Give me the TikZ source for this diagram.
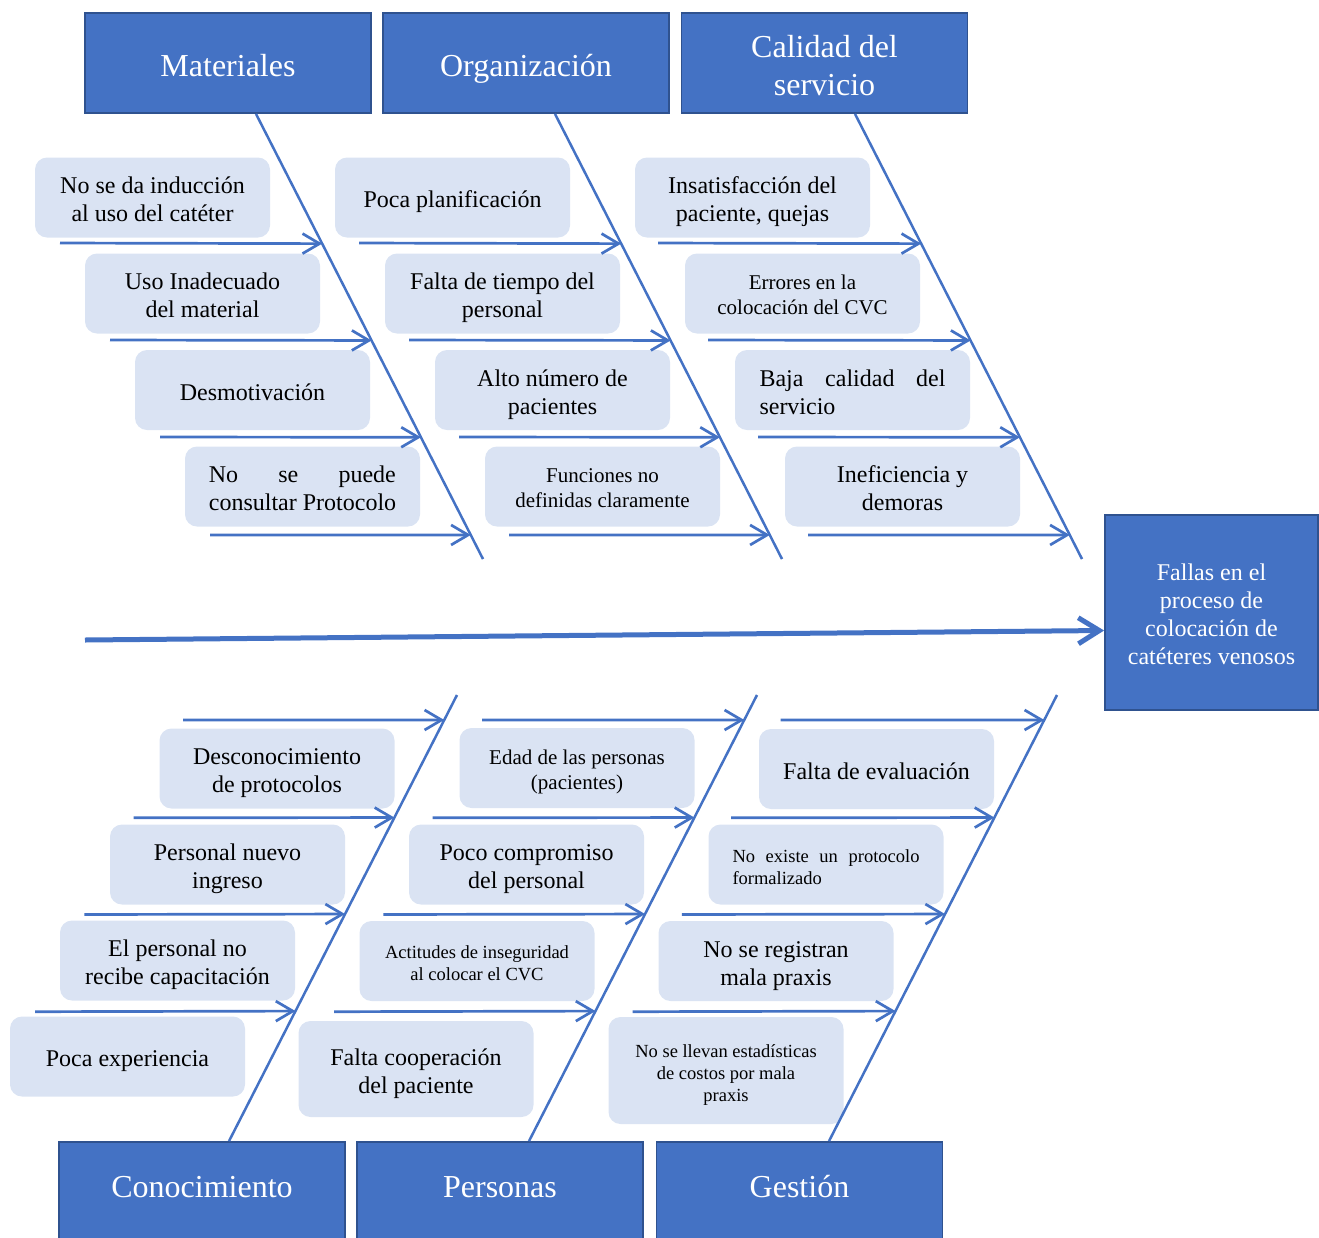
\documentclass[tikz,border=0pt]{standalone}
\usepackage{fontspec}
\setmainfont{Liberation Serif}
\usetikzlibrary{arrows.meta,calc}
\definecolor{catfill}{HTML}{4472C4}
\definecolor{catline}{HTML}{2F528F}
\definecolor{causefill}{HTML}{DAE3F3}
\definecolor{bonecol}{HTML}{4472C4}
% struts: first-line height / last-line depth
\newcommand\sA{\rule{0pt}{26pt}}\newcommand\eA{\rule[-6pt]{0pt}{6pt}}
\newcommand\sB{\rule{0pt}{22.2pt}}\newcommand\eB{\rule[-5pt]{0pt}{5pt}}
\newcommand\sC{\rule{0pt}{21.5pt}}\newcommand\eC{\rule[-4.5pt]{0pt}{4.5pt}}
\newcommand\sD{\rule{0pt}{34.6pt}}\newcommand\eD{\rule[-8pt]{0pt}{8pt}}
\newcommand\sE{\rule{0pt}{24pt}}\newcommand\eE{\rule[-24pt]{0pt}{24pt}}
\begin{document}
\begin{tikzpicture}[x=1pt,y=-1pt,
  cat/.style={draw=catline, line width=1.8pt, fill=catfill, text=white, minimum width=286pt, minimum height=100pt, inner sep=0pt, align=center, font=\fontsize{32}{38}\selectfont},
  cause/.style={fill=causefill, rounded corners=12pt, minimum width=235pt, minimum height=80pt, inner sep=0pt, align=center, font=\fontsize{24}{28}\selectfont},
  midtxt/.style={font=\fontsize{21}{25}\selectfont},
  smalltxt/.style={font=\fontsize{18.5}{22}\selectfont},
  bone/.style={draw=bonecol, line width=2.5pt},
  sub/.style={draw=bonecol, line width=2.7pt, -{Straight Barb[length=17pt,width=20pt]}},
  spine/.style={draw=bonecol, line width=5pt, -{Straight Barb[length=21pt,width=26pt]}},
]
\useasboundingbox (0,0) rectangle (1319,1237);
\clip (0,0) rectangle (1319,1237);

% category boxes
\node[cat] (mat) at (228,63) {\sD Materiales\eD};
\node[cat] (org) at (526,63) {\sD Organización\eD};
\node[cat] (cal) at (824.5,63) {\sD Calidad del\\servicio\eD};
\node[cat, minimum height=110pt] (con) at (202,1197) {\sE Conocimiento\eE};
\node[cat, minimum height=110pt] (per) at (500,1197) {\sE Personas\eE};
\node[cat, minimum height=110pt] (ges) at (799.5,1197) {\sE Gestión\eE};
\node[cat, minimum width=213pt, minimum height=195pt, font=\fontsize{24}{28}\selectfont] (eff) at (1211.5,612.5) {\sA Fallas en el\\proceso de\\colocación de\\catéteres venosos\eA};

% causes: Materiales
\node[cause] (m1) at (152.5,197.5) {\sA No se da inducción\\al uso del catéter\eA};
\node[cause] (m2) at (202.5,293.5) {\sA Uso Inadecuado\\del material\eA};
\node[cause] (m3) at (252.5,390) {\sA Desmotivación\eA};
\node[cause, align=left] (m4) at (302.5,486.5) {\sA\makebox[187pt][s]{No se puede}\\consultar Protocolo\eA};
% causes: Organizacion
\node[cause] (o1) at (452.5,197.5) {\sA Poca planificación\eA};
\node[cause] (o2) at (502.5,293.5) {\sA Falta de tiempo del\\personal\eA};
\node[cause] (o3) at (552.5,390) {\sA Alto número de\\pacientes\eA};
\node[cause, midtxt] (o4) at (602.5,486.5) {\sB Funciones no\\definidas claramente\eB};
% causes: Calidad
\node[cause] (c1) at (752.5,197.5) {\sA Insatisfacción del\\paciente, quejas\eA};
\node[cause, midtxt] (c2) at (802.5,293.5) {\sB Errores en la\\colocación del CVC\eB};
\node[cause, align=left] (c3) at (852.5,390) {\sA\makebox[186pt][s]{Baja calidad del}\\servicio\eA};
\node[cause] (c4) at (902.5,486.5) {\sA Ineficiencia y\\demoras\eA};
% causes: Conocimiento
\node[cause] (k1) at (277,768.5) {\sA Desconocimiento\\de protocolos\eA};
\node[cause] (k2) at (227.5,864.5) {\sA Personal nuevo\\ingreso\eA};
\node[cause] (k3) at (177.5,960.5) {\sA El personal no\\recibe capacitación\eA};
\node[cause] (k4) at (127.5,1056.5) {\sA Poca experiencia\eA};
% causes: Personas
\node[cause, midtxt] (p1) at (577,768) {\sB Edad de las personas\\(pacientes)\eB};
\node[cause] (p2) at (526.5,864.5) {\sA Poco compromiso\\del personal\eA};
\node[cause, smalltxt] (p3) at (477,961) {\sC Actitudes de inseguridad\\al colocar el CVC\eC};
\node[cause, minimum height=96pt] (p4) at (416,1069) {\sA Falta cooperación\\del paciente\eA};
% causes: Gestion
\node[cause] (g1) at (876.5,769) {\sA Falta de evaluación\eA};
\node[cause, smalltxt, align=left] (g2) at (826,864.5) {\sC\makebox[187pt][s]{No existe un protocolo}\\formalizado\eC};
\node[cause] (g3) at (776,961) {\sA No se registran\\mala praxis\eA};
\node[cause, smalltxt, minimum height=107pt] (g4) at (726,1070.5) {\sC No se llevan estadísticas\\de costos por mala\\praxis\eC};

% bones
\coordinate (mat-S) at ($(mat.south)+(28,0)$);
\coordinate (mat-E) at (483,559);
\coordinate (org-S) at ($(org.south)+(29,0)$);
\coordinate (org-E) at (782,559);
\coordinate (cal-S) at ($(cal.south)+(30.5,0)$);
\coordinate (cal-E) at (1082,559);
\coordinate (con-S) at ($(con.north)+(27,0)$);
\coordinate (con-E) at (457,695);
\coordinate (per-S) at ($(per.north)+(29,0)$);
\coordinate (per-E) at (757,695);
\coordinate (ges-S) at ($(ges.north)+(29.5,0)$);
\coordinate (ges-E) at (1057,695);
\foreach \b in {mat,org,cal,con,per,ges}{
  \draw[bone] (\b-S) -- (\b-E);
}

% sub arrows, top
\foreach \b/\xo in {mat/0,org/299,cal/598}{
  \foreach \k/\f in {1/0.2915,2/0.509,3/0.7265,4/0.946}{
    \coordinate (\b-t\k) at ({60+50*(\k-1)+\xo},{113+446*\f});
    \draw[sub] (\b-t\k) -- ($(\b-S)!\f!(\b-E)$);
  }
}
% sub arrows, bottom
\foreach \b/\xo in {con/0,per/299,ges/597.5}{
  \foreach \k/\f in {1/0.944,2/0.7253,3/0.509,4/0.2915}{
    \coordinate (\b-t\k) at ({183-49.3*(\k-1)+\xo},{1142-447*\f});
    \draw[sub] (\b-t\k) -- ($(\b-S)!\f!(\b-E)$);
  }
}

% spine
\coordinate (spT) at (85,640);
\draw[spine] (spT) -- ([yshift=-18pt]eff.west);
\end{tikzpicture}
\end{document}
